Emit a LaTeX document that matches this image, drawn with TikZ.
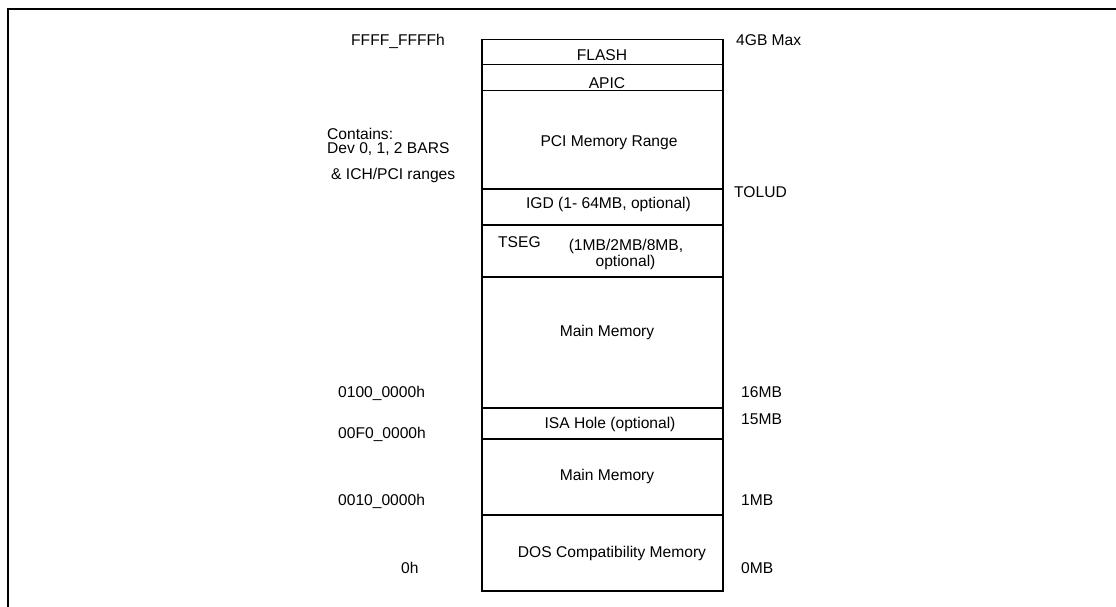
\documentclass[tikz,border=0pt]{standalone}
\usepackage{fontspec}
\setmainfont{Liberation Sans}
\begin{document}
\begin{tikzpicture}[x=1pt,y=-1pt,
  region/.style={draw=black,line width=1.5pt,inner sep=0pt,anchor=north west,minimum width=241pt},
  lbl/.style={inner sep=0pt,anchor=base,font=\fontsize{15.6}{17}\selectfont},
  side/.style={inner sep=0pt,anchor=base west,font=\fontsize{15.6}{17}\selectfont,align=left}]
\useasboundingbox (0,0) rectangle (1116,607);
% frame
\draw[line width=2pt] (8,607) -- (8,9) -- (1116,9);
% regions
\node[region,minimum height=25pt]   (flash) at (481,39) {};
\node[region,minimum height=26pt]   (apic)  at (481,64) {};
\node[region,minimum height=98pt]   (pci)   at (481,90) {};
\node[region,minimum height=36pt]   (igd)   at (481,188) {};
\node[region,minimum height=52pt]   (tseg)  at (481,224) {};
\node[region,minimum height=131pt]  (mm1)   at (481,276) {};
\node[region,minimum height=31pt]   (isa)   at (481,407) {};
\node[region,minimum height=76pt]   (mm2)   at (481,438) {};
\node[region,minimum height=76pt]   (dos)   at (481,514) {};
% texts inside
\node[lbl] (tflash) at (602,60.5) {FLASH};
\node[lbl] (tapic) at (607,89) {APIC};
\node[lbl] (tpci) at (609,146.5) {PCI Memory Range};
\node[lbl] (tigd) at (608.5,208) {IGD (1- 64MB, optional)};
\node[side] (ttseg) at (498,247.5) {TSEG};
\node[lbl] (ttseg2) at (626,250.5) {(1MB/2MB/8MB,};
\node[lbl] (ttseg3) at (625.5,266.5) {optional)};
\node[lbl] (tmm1) at (607,336.5) {Main Memory};
\node[lbl] (tisa) at (610,428) {ISA Hole (optional)};
\node[lbl] (tmm2) at (607,480.5) {Main Memory};
\node[lbl] (tdos) at (612,557) {DOS Compatibility Memory};
% left labels
\node[side] (lffff) at (351,45.5) {FFFF\_FFFFh};
\node[side] (lcont) at (327,139.5) {Contains:};
\node[side] (ldev) at (327,153.5) {Dev 0, 1, 2 BARS};
\node[side] (lich) at (331,179) {\& ICH/PCI ranges};
\node[side] (l0100) at (338,397.5) {0100\_0000h};
\node[side] (l00f0) at (338,438.5) {00F0\_0000h};
\node[side] (l0010) at (338,505) {0010\_0000h};
\node[side] (l0h) at (401,573.5) {0h};
% right labels
\node[side] (r4gb) at (736,46) {4GB Max};
\node[side] (rtolud) at (734,197.5) {TOLUD};
\node[side] (r16) at (741,397.5) {16MB};
\node[side] (r15) at (741,424) {15MB};
\node[side] (r1) at (741,505) {1MB};
\node[side] (r0) at (741,573.5) {0MB};
\end{tikzpicture}
\end{document}
